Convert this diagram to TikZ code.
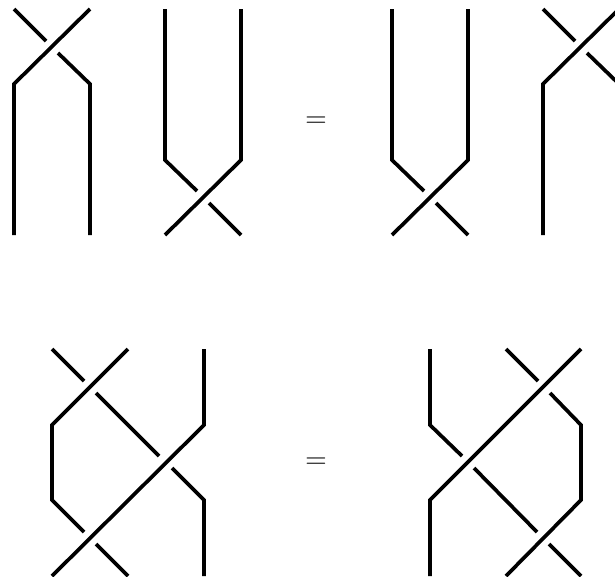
\documentclass[tikz,border=0pt]{standalone}
\tikzset{strand/.style={line width=3.7pt,line cap=butt,line join=miter,black},
 eqsign/.style={inner sep=0pt,outer sep=0pt}}
\begin{document}
\begin{tikzpicture}[x=1pt,y=-1pt]
\useasboundingbox (0,0) rectangle (615,576);
\clip (0,0) rectangle (615,576);
% top left
\draw[strand] (14,235) -- (14,84) -- (90,9);
\draw[strand] (14,9) -- (46,41);
\draw[strand] (58,53) -- (90,84) -- (90,235);
% top second
\draw[strand] (165,9) -- (165,160) -- (197,191);
\draw[strand] (209,203) -- (241,235);
\draw[strand] (241,9) -- (241,160) -- (165,235);
\node[eqsign] (eqa) at (316,122.5) {\scalebox{1.43}{\huge$=$}};
% top third
\draw[strand] (392,9) -- (392,160) -- (424,191);
\draw[strand] (436,203) -- (468,235);
\draw[strand] (468,9) -- (468,160) -- (392,235);
% top fourth
\draw[strand] (543,235) -- (543,84) -- (619,9);
\draw[strand] (543,9) -- (575,41);
\draw[strand] (587,53) -- (619,84);
% bottom left
\draw[strand] (52,349) -- (84,381);
\draw[strand] (128,349) -- (52,425) -- (52,500) -- (84,532);
\draw[strand] (96,544) -- (128,576);
\draw[strand] (204,349) -- (204,425) -- (52,576);
\draw[strand] (96,393) -- (159,456);
\draw[strand] (172,468) -- (204,500) -- (204,576);
\node[eqsign] (eqb) at (316,463.5) {\scalebox{1.43}{\huge$=$}};
% bottom right
\draw[strand] (430,349) -- (430,425) -- (462,456);
\draw[strand] (474,468) -- (537,532);
\draw[strand] (549,544) -- (581,576);
\draw[strand] (581,349) -- (430,500) -- (430,576);
\draw[strand] (506,349) -- (538,381);
\draw[strand] (550,393) -- (581,425) -- (581,500) -- (506,576);
\end{tikzpicture}
\end{document}
